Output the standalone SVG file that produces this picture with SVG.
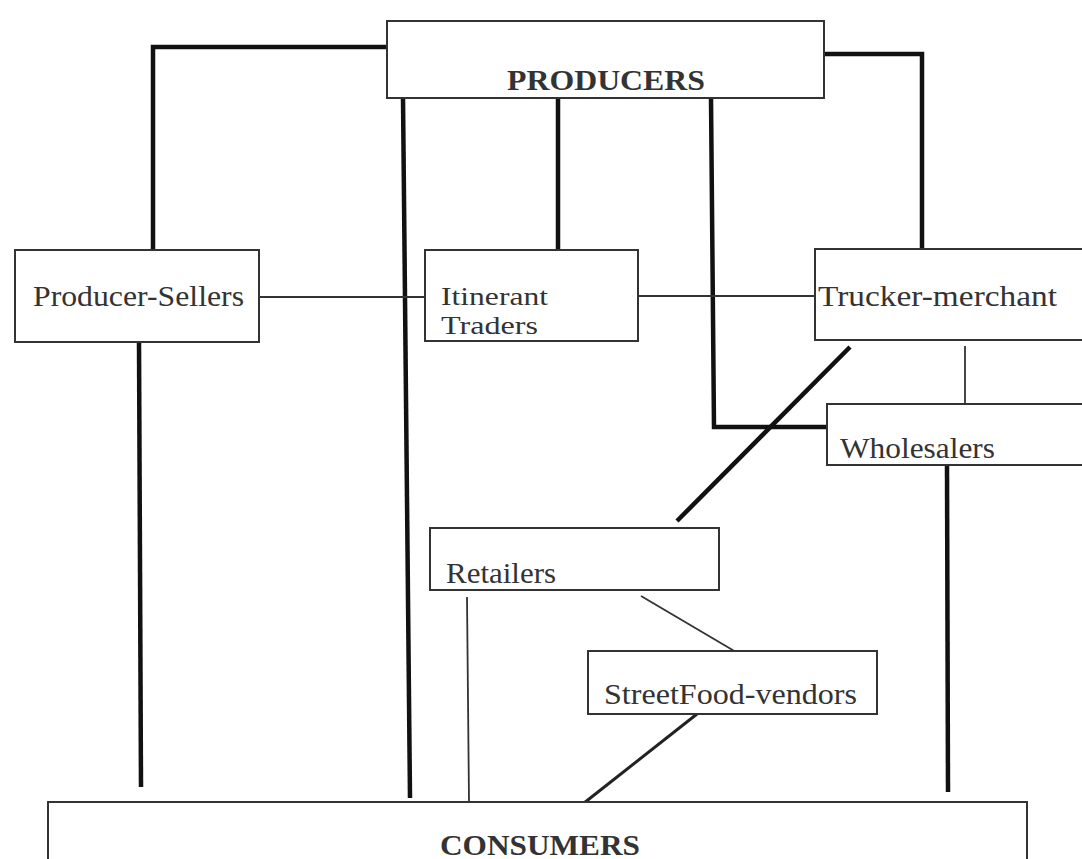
<svg xmlns="http://www.w3.org/2000/svg" width="1082" height="859" viewBox="0 0 1082 859">
<style>
.box{fill:#fff;stroke:#333;stroke-width:2}
.t{font-family:"Liberation Serif","Times New Roman",serif;font-size:29px;fill:#333}
.s{font-size:26px}
.b{font-weight:bold}
.thick{stroke:#111;stroke-width:4.5;fill:none}
.thin{stroke:#333;stroke-width:1.8;fill:none}
.mid{stroke:#222;stroke-width:3;fill:none}
</style>
<rect width="1082" height="859" fill="#fff"/>
<g id="connectors">
<polyline class="thick" points="387,47 153,47 153,249"/>
<polyline class="thick" points="824,54 922,54 922,248"/>
<line class="thick" x1="403" y1="98" x2="410" y2="798"/>
<line class="thick" x1="558" y1="98" x2="558" y2="249"/>
<polyline class="thick" points="711,98 714,427 832,427"/>
<line class="thin" x1="259" y1="297" x2="425" y2="297"/>
<line class="thin" x1="638" y1="296" x2="816" y2="296"/>
<line class="thin" x1="965" y1="346" x2="965" y2="404"/>
<line class="thick" x1="947" y1="466" x2="948" y2="792"/>
<line class="thick" x1="850" y1="347" x2="677" y2="521"/>
<line class="thick" x1="139" y1="343" x2="141" y2="787"/>
<line class="thin" x1="467" y1="597" x2="469" y2="802"/>
<line class="thin" x1="641" y1="596" x2="736" y2="652"/>
<line class="mid" x1="697" y1="714" x2="584" y2="803"/>
</g>
<g id="producers">
<rect class="box" x="387" y="21" width="437" height="77"/>
<text class="t b" x="606" y="90" text-anchor="middle" textLength="198" lengthAdjust="spacingAndGlyphs">PRODUCERS</text>
</g>
<g id="producer-sellers">
<rect class="box" x="15" y="250" width="244" height="92"/>
<text class="t" x="33" y="306" textLength="211" lengthAdjust="spacingAndGlyphs">Producer-Sellers</text>
</g>
<g id="itinerant-traders">
<rect class="box" x="425" y="250" width="213" height="91"/>
<text class="t s" x="441" y="305" textLength="107" lengthAdjust="spacingAndGlyphs">Itinerant</text>
<text class="t s" x="441" y="334" textLength="97" lengthAdjust="spacingAndGlyphs">Traders</text>
</g>
<g id="trucker-merchant">
<rect class="box" x="815" y="249" width="280" height="91"/>
<text class="t" x="818" y="306" textLength="239" lengthAdjust="spacingAndGlyphs">Trucker-merchant</text>
</g>
<g id="wholesalers">
<rect class="box" x="827" y="404" width="270" height="61"/>
<text class="t" x="840" y="458" textLength="155" lengthAdjust="spacingAndGlyphs">Wholesalers</text>
</g>
<g id="retailers">
<rect class="box" x="430" y="528" width="289" height="62"/>
<text class="t" x="446" y="583" textLength="110" lengthAdjust="spacingAndGlyphs">Retailers</text>
</g>
<g id="streetfood-vendors">
<rect class="box" x="588" y="651" width="289" height="63"/>
<text class="t" x="604" y="704" textLength="253" lengthAdjust="spacingAndGlyphs">StreetFood-vendors</text>
</g>
<g id="consumers">
<rect class="box" x="48" y="802" width="979" height="80"/>
<text class="t b" x="540" y="855" text-anchor="middle" textLength="200" lengthAdjust="spacingAndGlyphs">CONSUMERS</text>
</g>
</svg>
